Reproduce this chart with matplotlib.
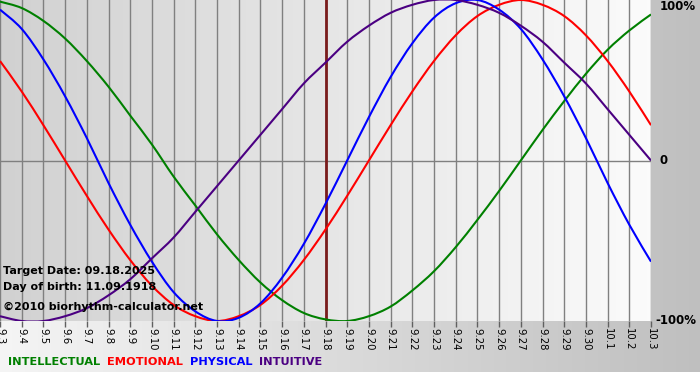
import numpy as np
import matplotlib
matplotlib.use("Agg")
import matplotlib.pyplot as plt
from matplotlib.path import Path
from matplotlib.patches import PathPatch

# ---- data ----
day_labels = ["9.3", "9.4", "9.5", "9.6", "9.7", "9.8", "9.9", "9.10", "9.11", "9.12",
              "9.13", "9.14", "9.15", "9.16", "9.17", "9.18", "9.19", "9.20", "9.21",
              "9.22", "9.23", "9.24", "9.25", "9.26", "9.27", "9.28", "9.29", "9.30",
              "10.1", "10.2", "10.3"]
physical = [0.94, 0.82, 0.63, 0.40, 0.14, -0.14, -0.40, -0.63, -0.82, -0.94, -1.00,
            -0.98, -0.89, -0.73, -0.52, -0.27, 0.00, 0.27, 0.52, 0.73, 0.89, 0.98,
            1.00, 0.94, 0.82, 0.63, 0.40, 0.14, -0.14, -0.40, -0.63]
emotional = [0.62, 0.43, 0.22, 0.00, -0.22, -0.43, -0.62, -0.78, -0.90, -0.97, -1.00,
             -0.97, -0.90, -0.78, -0.62, -0.43, -0.22, 0.00, 0.22, 0.43, 0.62, 0.78,
             0.90, 0.97, 1.00, 0.97, 0.90, 0.78, 0.62, 0.43, 0.22]
intellectual = [0.99, 0.95, 0.87, 0.76, 0.62, 0.46, 0.28, 0.10, -0.10, -0.28, -0.46,
                -0.62, -0.76, -0.87, -0.95, -0.99, -1.00, -0.97, -0.91, -0.81, -0.69,
                -0.54, -0.37, -0.19, 0.00, 0.19, 0.37, 0.54, 0.69, 0.81, 0.91]
intuitive = [-0.97, -1.00, -1.00, -0.97, -0.92, -0.84, -0.74, -0.61, -0.48, -0.32, -0.16,
             0.00, 0.16, 0.32, 0.48, 0.61, 0.74, 0.84, 0.92, 0.97, 1.00, 1.00, 0.97,
             0.92, 0.84, 0.74, 0.61, 0.48, 0.32, 0.16, 0.00]
target_label = "9.18"
legend_names = ["INTELLECTUAL", "EMOTIONAL", "PHYSICAL", "INTUITIVE"]
y_labels = ["100%", "0", "-100%"]
y_values = [1.0, 0.0, -1.0]

W, H = 700, 380
fig = plt.figure(figsize=(W / 100, H / 100), dpi=100)

# figure background gradient
bg = fig.add_axes([0, 0, 1, 1], zorder=-10)
grad = np.linspace(0, 1, 256)[None, :]
cols = np.array([0.96, 0.96, 0.96])[None, None, :] * (1 - grad[..., None]) + \
       np.array([0.75, 0.75, 0.75])[None, None, :] * grad[..., None]
bg.imshow(cols, extent=[0, 1, 8 / H, 1], aspect="auto", transform=bg.transAxes)
bg.set_xlim(0, 1)
bg.set_ylim(0, 1)
bg.axis("off")

x = np.arange(len(day_labels))
ax = fig.add_axes([0, 1 - 321 / H, 651 / W, 321 / H])
ax.set_xlim(0, len(day_labels) - 1)
ax.set_ylim(-1.0, 1.0)

# plot area gradient
pcols = np.array([0.82, 0.82, 0.82])[None, None, :] * (1 - grad[..., None]) + \
        np.array([0.985, 0.985, 0.985])[None, None, :] * grad[..., None]
ax.imshow(pcols, extent=[0, len(day_labels) - 1, -1, 1], aspect="auto", zorder=0)

for xi in x:
    ax.axvline(xi, color="#808080", lw=1.0, zorder=1)
ax.axhline(0, color="#808080", lw=1.0, zorder=1)

ti = day_labels.index(target_label)
ax.axvline(ti, color="#7a1c1c", lw=2.0, zorder=2)


def smooth_path(xs, ys):
    """Cubic Bezier path through the data points (Catmull-Rom tangents)."""
    p = np.column_stack([xs, ys]).astype(float)
    n = len(p)
    verts = [p[0]]
    codes = [Path.MOVETO]
    for i in range(n - 1):
        p0 = p[i - 1] if i > 0 else p[i]
        p1 = p[i]
        p2 = p[i + 1]
        p3 = p[i + 2] if i + 2 < n else p[i + 1]
        c1 = p1 + (p2 - p0) / 6.0
        c2 = p2 - (p3 - p1) / 6.0
        verts += [c1, c2, p2]
        codes += [Path.CURVE4] * 3
    return Path(verts, codes)


lw = 1.5
for series, c in [(intellectual, "#008000"), (emotional, "#ff0000"),
                  (physical, "#0000ff"), (intuitive, "#4b0082")]:
    patch = PathPatch(smooth_path(x, series), facecolor="none", edgecolor=c,
                      lw=lw, zorder=3, transform=ax.transData)
    ax.add_patch(patch)
    patch.set_clip_path(ax.patch)

for s in ax.spines.values():
    s.set_visible(False)
ax.set_xticks(x)
ax.set_xticklabels(day_labels, rotation=-90, fontsize=7.3, va="top", ha="center")
ax.tick_params(axis="x", length=4, width=1, color="#606060", pad=1)
ax.set_yticks([])

for lab, v in zip(y_labels, y_values):
    ax.annotate(lab, xy=(1, v), xycoords=("axes fraction", "data"),
                xytext=(6 if lab != "-100%" else 3, -5 if v > 0 else 0),
                textcoords="offset points",
                ha="left", va="center",
                fontsize=8.5, fontweight="bold", annotation_clip=False)

# info text
fs = 8.0
fig.text(3 / W, 1 - 271 / H, "Target Date: 09.18.2025", fontsize=fs, fontweight="bold",
         va="center", ha="left")
fig.text(3 / W, 1 - 287 / H, "Day of birth: 11.09.1918", fontsize=fs, fontweight="bold",
         va="center", ha="left")
fig.text(3 / W, 1 - 307 / H, "\u00a92010 biorhythm-calculator.net", fontsize=fs,
         fontweight="bold", va="center", ha="left")

# colored legend words
leg_colors = ["#008000", "#ff0000", "#0000ff", "#4b0082"]
xpos = 8
r = fig.canvas.get_renderer()
for name, c in zip(legend_names, leg_colors):
    t = fig.text(xpos / W, 1 - 362 / H, name, color=c, fontsize=8.2, fontweight="bold",
                 va="center", ha="left")
    bb = t.get_window_extent(renderer=r)
    xpos += bb.width + 7

fig.savefig("out.png", dpi=100)
